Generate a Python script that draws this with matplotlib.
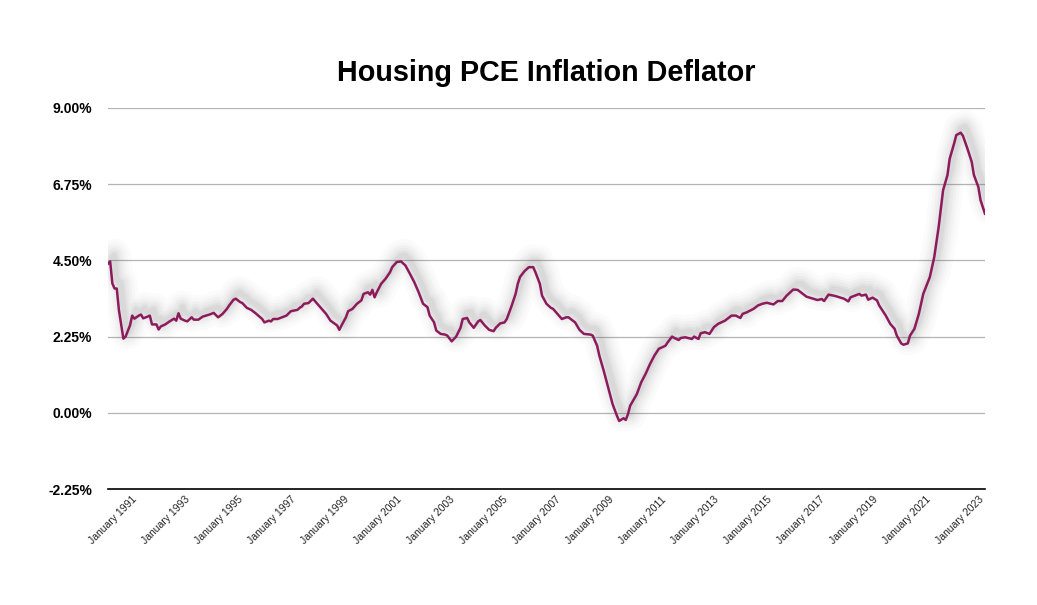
import matplotlib
matplotlib.use("Agg")
import matplotlib.pyplot as plt
import matplotlib.transforms as mtransforms

plt.rcParams['font.family'] = ['Liberation Sans', 'DejaVu Sans']

# months counted from January 1990 (0 = Jan 1990), values in percent
months = [1, 2, 3, 4, 5, 6, 8, 9, 11, 12, 13, 15, 16, 17, 19, 20, 21, 23, 24, 25,
          27, 29, 31, 32, 33, 34, 36, 37, 39, 40, 42, 44, 47, 49, 51, 53, 55, 56, 58, 59,
          61, 62, 64, 66, 68, 71, 72, 74, 75, 76, 78, 80, 82, 84, 87, 88, 89, 90, 92, 94,
          96, 98, 100, 102, 105, 106, 107, 109, 110, 112, 114, 116, 117, 119, 120, 121, 122, 123, 125, 127,
          129, 130, 132, 134, 136, 138, 140, 142, 144, 146, 147, 149, 150, 152, 154, 155, 157, 159, 161, 162,
          164, 165, 167, 169, 170, 172, 174, 176, 177, 179, 181, 182, 184, 186, 187, 188, 190, 192, 194, 195,
          197, 198, 200, 202, 203, 205, 207, 209, 210, 213, 215, 217, 220, 221, 223, 224, 226, 228, 230, 232,
          233, 235, 236, 237, 238, 241, 243, 245, 247, 249, 251, 254, 255, 257, 258, 260, 261, 263, 266, 267,
          269, 270, 272, 274, 276, 278, 281, 283, 284, 286, 288, 289, 291, 294, 296, 298, 300, 303, 305, 307,
          309, 312, 314, 315, 318, 319, 321, 323, 325, 326, 328, 331, 333, 335, 337, 338, 340, 342, 343, 345,
          346, 348, 350, 351, 352, 354, 356, 358, 359, 361, 362, 364, 365, 367, 369, 371, 374, 376, 378, 380,
          382, 383, 385, 386, 388, 389, 391, 393, 394, 396, 397, 399]
values = [4.40, 4.47, 3.82, 3.67, 3.67, 3.02, 2.19, 2.25, 2.58, 2.87, 2.78, 2.87, 2.90, 2.79, 2.84, 2.87, 2.61, 2.61, 2.46, 2.55,
          2.61, 2.70, 2.78, 2.72, 2.94, 2.78, 2.72, 2.70, 2.82, 2.75, 2.75, 2.84, 2.90, 2.95, 2.82, 2.92, 3.07, 3.17, 3.34, 3.37,
          3.27, 3.24, 3.10, 3.04, 2.94, 2.77, 2.67, 2.72, 2.70, 2.77, 2.77, 2.82, 2.87, 3.00, 3.04, 3.10, 3.14, 3.22, 3.24, 3.37,
          3.22, 3.07, 2.92, 2.72, 2.58, 2.45, 2.58, 2.82, 3.00, 3.07, 3.22, 3.32, 3.51, 3.56, 3.49, 3.63, 3.41, 3.56, 3.81, 3.96,
          4.15, 4.30, 4.45, 4.47, 4.35, 4.11, 3.86, 3.56, 3.22, 3.12, 2.87, 2.67, 2.43, 2.33, 2.31, 2.28, 2.11, 2.25, 2.51, 2.77,
          2.80, 2.67, 2.51, 2.70, 2.74, 2.58, 2.45, 2.41, 2.51, 2.64, 2.67, 2.77, 3.12, 3.51, 3.81, 4.01, 4.18, 4.30, 4.30, 4.15,
          3.81, 3.46, 3.22, 3.10, 3.07, 2.92, 2.77, 2.82, 2.82, 2.67, 2.45, 2.33, 2.31, 2.28, 1.98, 1.69, 1.24, 0.75, 0.26, -0.09,
          -0.24, -0.16, -0.21, -0.04, 0.21, 0.55, 0.90, 1.15, 1.44, 1.69, 1.89, 1.98, 2.08, 2.25, 2.21, 2.15, 2.21, 2.23, 2.18, 2.25,
          2.18, 2.35, 2.38, 2.33, 2.53, 2.63, 2.72, 2.82, 2.87, 2.87, 2.80, 2.92, 2.97, 3.07, 3.17, 3.22, 3.25, 3.20, 3.30, 3.30,
          3.46, 3.64, 3.63, 3.58, 3.43, 3.41, 3.37, 3.33, 3.36, 3.30, 3.49, 3.45, 3.41, 3.37, 3.29, 3.41, 3.46, 3.51, 3.46, 3.49,
          3.34, 3.40, 3.32, 3.17, 3.07, 2.87, 2.63, 2.48, 2.28, 2.05, 2.01, 2.05, 2.28, 2.48, 2.92, 3.51, 4.01, 4.60, 5.49, 6.57,
          7.02, 7.50, 7.95, 8.20, 8.27, 8.18, 7.81, 7.41, 7.02, 6.67, 6.28, 5.88]

tick_years = list(range(1991, 2024, 2))
y_ticks = [-2.25, 0.00, 2.25, 4.50, 6.75, 9.00]

line_color = '#8c1b5c'

fig = plt.figure(figsize=(10.37, 6.05), dpi=100)
ax = fig.add_axes([0.1041, 0.1917, 0.8457, 0.6298])

# soft gray drop shadow, offset up and to the right
shadow = mtransforms.offset_copy(ax.transData, fig=fig, x=4, y=6, units='dots')
for lw, a in [(24, 0.018), (19, 0.022), (15, 0.03), (11, 0.04), (7, 0.05), (4, 0.06)]:
    ax.plot(months, values, color='#555555', lw=lw, alpha=a, transform=shadow,
            solid_capstyle='round', solid_joinstyle='round', zorder=2)

ax.plot(months, values, color=line_color, lw=1.8, zorder=3, solid_joinstyle='round')

ax.set_xlim(months[0], months[-1])
ax.set_ylim(-2.25, 9.0)
ax.set_yticks(y_ticks)
ax.set_yticklabels([f'{v:.2f}%' for v in y_ticks], fontsize=10, fontweight='bold')
ax.set_xticks([(y - 1990) * 12 for y in tick_years])
ax.set_xticklabels([f'January {y}' for y in tick_years], rotation=45, ha='right',
                   rotation_mode='anchor', fontsize=7.5, color='#222222')
ax.tick_params(axis='both', length=0)
ax.tick_params(axis='y', pad=11.5)
ax.tick_params(axis='x', pad=4)

ax.grid(axis='y', color='#b4b4b4', lw=0.9)
ax.set_axisbelow(True)
for s in ['top', 'right', 'left']:
    ax.spines[s].set_visible(False)
ax.spines['bottom'].set_color('black')
ax.spines['bottom'].set_linewidth(1.2)
ax.spines['bottom'].set_zorder(4)

fig.text(0.5265, 0.879, 'Housing PCE Inflation Deflator', ha='center', va='center',
         fontsize=20.7, fontweight='bold')

fig.savefig('out.png', dpi=100, facecolor='white')
